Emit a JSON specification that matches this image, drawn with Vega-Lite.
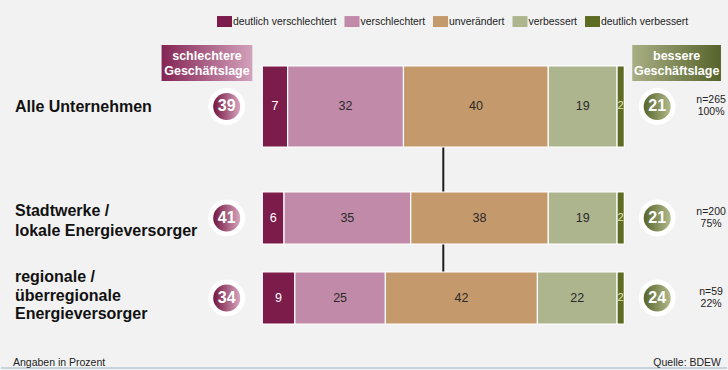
{
  "$schema": "https://vega.github.io/schema/vega-lite/v6.json",
  "width": 728,
  "height": 370,
  "autosize": {"type": "fit", "contains": "padding"},
  "padding": 0,
  "background": "#f2f2f2",
  "config": {
    "view": {"stroke": null},
    "axis": {"disable": true},
    "font": "Liberation Sans",
    "text": {"font": "Liberation Sans"}
  },
  "datasets": {
    "bars": [
      {"group": "Alle Unternehmen", "category": "deutlich verschlechtert", "value": 7},
      {"group": "Alle Unternehmen", "category": "verschlechtert", "value": 32},
      {"group": "Alle Unternehmen", "category": "unverändert", "value": 40},
      {"group": "Alle Unternehmen", "category": "verbessert", "value": 19},
      {"group": "Alle Unternehmen", "category": "deutlich verbessert", "value": 2},
      {"group": "Stadtwerke / lokale Energieversorger", "category": "deutlich verschlechtert", "value": 6},
      {"group": "Stadtwerke / lokale Energieversorger", "category": "verschlechtert", "value": 35},
      {"group": "Stadtwerke / lokale Energieversorger", "category": "unverändert", "value": 38},
      {"group": "Stadtwerke / lokale Energieversorger", "category": "verbessert", "value": 19},
      {"group": "Stadtwerke / lokale Energieversorger", "category": "deutlich verbessert", "value": 2},
      {"group": "regionale / überregionale Energieversorger", "category": "deutlich verschlechtert", "value": 9},
      {"group": "regionale / überregionale Energieversorger", "category": "verschlechtert", "value": 25},
      {"group": "regionale / überregionale Energieversorger", "category": "unverändert", "value": 42},
      {"group": "regionale / überregionale Energieversorger", "category": "verbessert", "value": 22},
      {"group": "regionale / überregionale Energieversorger", "category": "deutlich verbessert", "value": 2}
    ],
    "summary": [
      {"group": "Alle Unternehmen", "worse": 39, "better": 21, "n": "n=265", "share": "100%"},
      {"group": "Stadtwerke / lokale Energieversorger", "worse": 41, "better": 21, "n": "n=200", "share": "75%"},
      {"group": "regionale / überregionale Energieversorger", "worse": 34, "better": 24, "n": "n=59", "share": "22%"}
    ],
    "labels": [
      {"group": "Alle Unternehmen", "line": 1, "text": "Alle Unternehmen"},
      {"group": "Stadtwerke / lokale Energieversorger", "line": 1, "text": "Stadtwerke /"},
      {"group": "Stadtwerke / lokale Energieversorger", "line": 2, "text": "lokale Energieversorger"},
      {"group": "regionale / überregionale Energieversorger", "line": 1, "text": "regionale /"},
      {"group": "regionale / überregionale Energieversorger", "line": 2, "text": "überregionale"},
      {"group": "regionale / überregionale Energieversorger", "line": 3, "text": "Energieversorger"}
    ]
  },
  "layer": [
    {
      "data": {"values": [{}]},
      "mark": {"type": "rule", "color": "#b9cad5", "strokeWidth": 1.5, "yOffset": 70},
      "encoding": {
        "x": {"datum": -72.18},
        "x2": {"datum": 128.37},
        "y": {"datum": "regionale / überregionale Energieversorger"}
      }
    },
    {
      "data": {"values": [{}]},
      "mark": {"type": "rule", "color": "#1e1e1e", "strokeWidth": 2},
      "encoding": {
        "x": {"datum": 50},
        "y": {"datum": "Alle Unternehmen"},
        "y2": {"datum": "regionale / überregionale Energieversorger"}
      }
    },
    {
      "data": {"name": "bars"},
      "transform": [
        {"calculate": "indexof(['deutlich verschlechtert','verschlechtert','unverändert','verbessert','deutlich verbessert'], datum.category)", "as": "ord"}
      ],
      "mark": {"type": "bar", "stroke": "#ffffff", "strokeWidth": 1.2, "yOffset": {"expr": "datum.group === 'Alle Unternehmen' ? -31.5 : 0"}},
      "encoding": {
        "y": {
          "field": "group",
          "type": "nominal",
          "scale": {
            "type": "band",
            "domain": ["Alle Unternehmen", "Stadtwerke / lokale Energieversorger", "regionale / überregionale Energieversorger"],
            "paddingInner": 0.35,
            "paddingOuter": 0.9875,
            "align": 0.70886
          }
        },
        "x": {
          "field": "value",
          "type": "quantitative",
          "stack": "zero",
          "scale": {"domain": [-72.18, 128.37], "nice": false, "zero": false}
        },
        "color": {
          "field": "category",
          "type": "nominal",
          "scale": {
            "domain": ["deutlich verschlechtert", "verschlechtert", "unverändert", "verbessert", "deutlich verbessert"],
            "range": ["#7c1c4b", "#c18aa8", "#c4996b", "#adb58e", "#5e6b22"]
          },
          "legend": {
            "orient": "none",
            "legendX": 216,
            "legendY": 14,
            "direction": "horizontal",
            "columns": 5,
            "title": null,
            "padding": 0,
            "symbolType": "M-1,-0.73H1V0.73H-1Z",
            "symbolSize": 225,
            "symbolStrokeWidth": 0,
            "symbolOpacity": 1,
            "labelFont": "Liberation Sans",
            "labelFontSize": 10.4,
            "labelColor": "#222222",
            "labelOffset": 1,
            "columnPadding": 7.5,
            "labelLimit": 300
          }
        },
        "order": {"field": "ord"},
        "size": {"condition": {"test": "datum.group === 'Alle Unternehmen'", "value": 81}, "value": 52}
      }
    },
    {
      "data": {"name": "bars"},
      "transform": [
        {"calculate": "indexof(['deutlich verschlechtert','verschlechtert','unverändert','verbessert','deutlich verbessert'], datum.category)", "as": "ord"}
      ],
      "mark": {"type": "text", "baseline": "middle", "align": "center", "yOffset": {"expr": "datum.group === 'Alle Unternehmen' ? -31.5 : 0"}},
      "encoding": {
        "y": {"field": "group", "type": "nominal"},
        "x": {"field": "value", "type": "quantitative", "stack": "zero", "bandPosition": 0.5},
        "detail": {"field": "category"},
        "order": {"field": "ord"},
        "text": {"field": "value"},
        "size": {"condition": {"test": "datum.category === 'deutlich verbessert'", "value": 11}, "value": 12.5},
        "color": {
          "condition": [
            {"test": "datum.category === 'deutlich verschlechtert'", "value": "#ffffff"},
            {"test": "datum.category === 'deutlich verbessert'", "value": "#e4e6b8"}
          ],
          "value": "#2a2a2a"
        }
      }
    },
    {
      "data": {"name": "labels"},
      "mark": {"type": "text", "align": "left", "baseline": "middle", "fontWeight": "bold", "fontSize": 16, "color": "#111111",
        "yOffset": {"expr": "datum.group === 'Alle Unternehmen' ? -31 : (datum.group === 'Stadtwerke / lokale Energieversorger' ? -7 + (datum.line - 1) * 20 : -20.5 + (datum.line - 1) * 18.5)"}},
      "encoding": {
        "y": {"field": "group", "type": "nominal"},
        "x": {"datum": -68.32},
        "text": {"field": "text"}
      }
    },
    {
      "data": {"name": "summary"},
      "mark": {"type": "point", "shape": "circle", "filled": true, "color": "#ffffff", "opacity": 1, "size": 1369, "yOffset": {"expr": "datum.group === 'Alle Unternehmen' ? -31.5 : 0"}},
      "encoding": {"y": {"field": "group", "type": "nominal"}, "x": {"datum": -9.83}}
    },
    {
      "data": {"name": "summary"},
      "mark": {"type": "point", "shape": "circle", "filled": true, "opacity": 1, "size": 729,
        "fill": {"gradient": "linear", "x1": 0, "y1": 0, "x2": 1, "y2": 0, "stops": [{"offset": 0, "color": "#74163f"}, {"offset": 1, "color": "#d6a5bf"}]},
        "yOffset": {"expr": "datum.group === 'Alle Unternehmen' ? -31.5 : 0"}},
      "encoding": {"y": {"field": "group", "type": "nominal"}, "x": {"datum": -9.83}}
    },
    {
      "data": {"name": "summary"},
      "mark": {"type": "text", "align": "center", "baseline": "middle", "fontWeight": "bold", "fontSize": 16, "color": "#ffffff", "yOffset": {"expr": "datum.group === 'Alle Unternehmen' ? -31.5 : 0"}},
      "encoding": {"y": {"field": "group", "type": "nominal"}, "x": {"datum": -9.83}, "text": {"field": "worse"}}
    },
    {
      "data": {"name": "summary"},
      "mark": {"type": "point", "shape": "circle", "filled": true, "color": "#ffffff", "opacity": 1, "size": 1369, "yOffset": {"expr": "datum.group === 'Alle Unternehmen' ? -31.5 : 0"}},
      "encoding": {"y": {"field": "group", "type": "nominal"}, "x": {"datum": 109.09}}
    },
    {
      "data": {"name": "summary"},
      "mark": {"type": "point", "shape": "circle", "filled": true, "opacity": 1, "size": 729,
        "fill": {"gradient": "linear", "x1": 0, "y1": 0, "x2": 1, "y2": 0, "stops": [{"offset": 0, "color": "#56652a"}, {"offset": 1, "color": "#b2ba8c"}]},
        "yOffset": {"expr": "datum.group === 'Alle Unternehmen' ? -31.5 : 0"}},
      "encoding": {"y": {"field": "group", "type": "nominal"}, "x": {"datum": 109.09}}
    },
    {
      "data": {"name": "summary"},
      "mark": {"type": "text", "align": "center", "baseline": "middle", "fontWeight": "bold", "fontSize": 16, "color": "#ffffff", "yOffset": {"expr": "datum.group === 'Alle Unternehmen' ? -31.5 : 0"}},
      "encoding": {"y": {"field": "group", "type": "nominal"}, "x": {"datum": 109.09}, "text": {"field": "better"}}
    },
    {
      "data": {"name": "summary"},
      "mark": {"type": "text", "align": "center", "baseline": "middle", "fontSize": 10.5, "color": "#222222", "yOffset": {"expr": "datum.group === 'Alle Unternehmen' ? -37.5 : -6"}},
      "encoding": {"y": {"field": "group", "type": "nominal"}, "x": {"datum": 123.97}, "text": {"field": "n"}}
    },
    {
      "data": {"name": "summary"},
      "mark": {"type": "text", "align": "center", "baseline": "middle", "fontSize": 10.5, "color": "#222222", "yOffset": {"expr": "datum.group === 'Alle Unternehmen' ? -25.5 : 6"}},
      "encoding": {"y": {"field": "group", "type": "nominal"}, "x": {"datum": 123.97}, "text": {"field": "share"}}
    },
    {
      "data": {"values": [{}]},
      "mark": {"type": "bar", "height": 36, "yOffset": -75,
        "fill": {"gradient": "linear", "x1": 0, "y1": 0, "x2": 1, "y2": 0, "stops": [{"offset": 0, "color": "#842454"}, {"offset": 1, "color": "#d3a1bb"}]}},
      "encoding": {"x": {"datum": -27.82}, "x2": {"datum": -2.75}, "y": {"datum": "Alle Unternehmen"}}
    },
    {
      "data": {"values": [{}]},
      "mark": {"type": "bar", "height": 36, "yOffset": -75,
        "fill": {"gradient": "linear", "x1": 0, "y1": 0, "x2": 1, "y2": 0, "stops": [{"offset": 0, "color": "#a9af84"}, {"offset": 1, "color": "#56632b"}]}},
      "encoding": {"x": {"datum": 102.2}, "x2": {"datum": 126.7}, "y": {"datum": "Alle Unternehmen"}}
    },
    {
      "data": {"values": [{}]},
      "mark": {"type": "text", "align": "center", "baseline": "middle", "fontWeight": "bold", "fontSize": 12.5, "color": "#ffffff", "yOffset": -81.5},
      "encoding": {"x": {"datum": -15.29}, "y": {"datum": "Alle Unternehmen"}, "text": {"value": "schlechtere"}}
    },
    {
      "data": {"values": [{}]},
      "mark": {"type": "text", "align": "center", "baseline": "middle", "fontWeight": "bold", "fontSize": 12.5, "color": "#ffffff", "yOffset": -66.5},
      "encoding": {"x": {"datum": -15.29}, "y": {"datum": "Alle Unternehmen"}, "text": {"value": "Geschäftslage"}}
    },
    {
      "data": {"values": [{}]},
      "mark": {"type": "text", "align": "center", "baseline": "middle", "fontWeight": "bold", "fontSize": 12.5, "color": "#ffffff", "yOffset": -81.5},
      "encoding": {"x": {"datum": 114.46}, "y": {"datum": "Alle Unternehmen"}, "text": {"value": "bessere"}}
    },
    {
      "data": {"values": [{}]},
      "mark": {"type": "text", "align": "center", "baseline": "middle", "fontWeight": "bold", "fontSize": 12.5, "color": "#ffffff", "yOffset": -66.5},
      "encoding": {"x": {"datum": 114.46}, "y": {"datum": "Alle Unternehmen"}, "text": {"value": "Geschäftslage"}}
    },
    {
      "data": {"values": [{}]},
      "mark": {"type": "text", "align": "left", "baseline": "middle", "fontSize": 10.5, "color": "#222222", "yOffset": 65},
      "encoding": {"x": {"datum": -68.87}, "y": {"datum": "regionale / überregionale Energieversorger"}, "text": {"value": "Angaben in Prozent"}}
    },
    {
      "data": {"values": [{}]},
      "mark": {"type": "text", "align": "right", "baseline": "middle", "fontSize": 10.5, "color": "#222222", "yOffset": 65},
      "encoding": {"x": {"datum": 126.72}, "y": {"datum": "regionale / überregionale Energieversorger"}, "text": {"value": "Quelle: BDEW"}}
    }
  ]
}
